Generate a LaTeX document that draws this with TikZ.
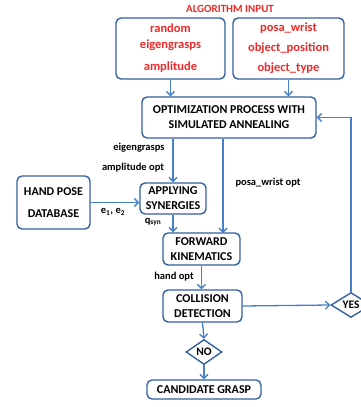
\documentclass[tikz,border=0pt]{standalone}
\usepackage{fontspec}
\setmainfont{Carlito}
\usetikzlibrary{arrows.meta,shapes.geometric}
\definecolor{boxblue}{RGB}{52,96,160}
\definecolor{arrblue}{RGB}{70,128,200}
\definecolor{inred}{RGB}{240,40,40}
\begin{document}
\begin{tikzpicture}[x=1pt, y=-1pt,
    box/.style={rectangle, draw=boxblue, line width=1.4pt, rounded corners=5pt, align=center, inner sep=1pt, font=\fontsize{12}{15}\selectfont\bfseries},
    inbox/.style={box, text=inred, font=\fontsize{12.5}{16}\selectfont\bfseries},
    dec/.style={diamond, draw=boxblue, line width=1.4pt, inner sep=0pt, font=\fontsize{11.5}{13}\selectfont\bfseries},
    lbl/.style={font=\fontsize{10.5}{12}\selectfont\bfseries, inner sep=1pt},
    arr/.style={->, draw=arrblue, line width=1.3pt, >={Straight Barb[length=4pt,width=8pt]}}
]
\useasboundingbox (0,0) rectangle (360,407);
\node[font=\fontsize{11}{13}\selectfont\bfseries, text=inred] (title) at (230,9) {ALGORITHM INPUT};
\node[inbox, minimum width=109pt, minimum height=61pt] (in1) at (170.5,48.5) {random\\eigengrasps\\[6pt]amplitude};
\node[inbox, minimum width=111pt, minimum height=61pt] (in2) at (288.5,48.5) {posa\_wrist\\[4pt]object\_position\\[4pt]object\_type};
\node[box, minimum width=174pt, minimum height=41pt] (opt) at (229,117.5) {OPTIMIZATION PROCESS WITH\\SIMULATED ANNEALING};
\node[box, minimum width=73pt, minimum height=53pt, font=\fontsize{12}{22}\selectfont\bfseries] (hand) at (53.5,202.5) {HAND POSE\\DATABASE};
\node[box, minimum width=66pt, minimum height=31pt] (syn) at (173,198.5) {APPLYING\\SYNERGIES};
\node[box, minimum width=77pt, minimum height=32pt] (fk) at (201.5,249) {FORWARD\\KINEMATICS};
\node[box, minimum width=79pt, minimum height=32pt] (col) at (202.5,306) {COLLISION\\DETECTION};
\node[dec, minimum width=36pt, minimum height=25pt] (no) at (204,352) {NO};
\node[box, minimum width=114pt, minimum height=19pt] (cand) at (204,389.5) {CANDIDATE GRASP};
\node[dec, minimum width=40pt, minimum height=25pt] (yes) at (351,305) {YES};
\coordinate (fkin) at (223,233);
% labels
\node[lbl] (leig) at (139,148) {eigengrasps};
\node[lbl] (lamp) at (133,168) {amplitude opt};
\node[lbl] (lpos) at (268,183) {posa\_wrist opt};
\node[lbl] (lev) at (113,212) {e\textsubscript{1}, e\textsubscript{2}};
\node[lbl] (lq) at (153,222) {q\textsubscript{syn}};
\node[lbl] (lhand) at (174,277) {hand opt};
% connectors
\draw[arr] (in1.south) -- (in1.south |- opt.north);
\draw[arr] (in2.south) -- (in2.south |- opt.north);
\draw[arr] (syn.north |- opt.south) -- (syn.north);
\draw[arr] (fkin |- opt.south) -- (fkin);
\draw[arr] (hand.east) -- (hand.east -| syn.west);
\draw[arr] (syn.south) -- (syn.south |- fk.north);
\draw[arr] (fk.south) -- (fk.south |- col.north);
\draw[arr] (col.east) -- (yes.west);
\draw[arr] (yes.north) |- (opt.east);
\draw[arr] (col.south) -- (no.north);
\draw[arr] (no.south) -- (cand.north);
\end{tikzpicture}
\end{document}
